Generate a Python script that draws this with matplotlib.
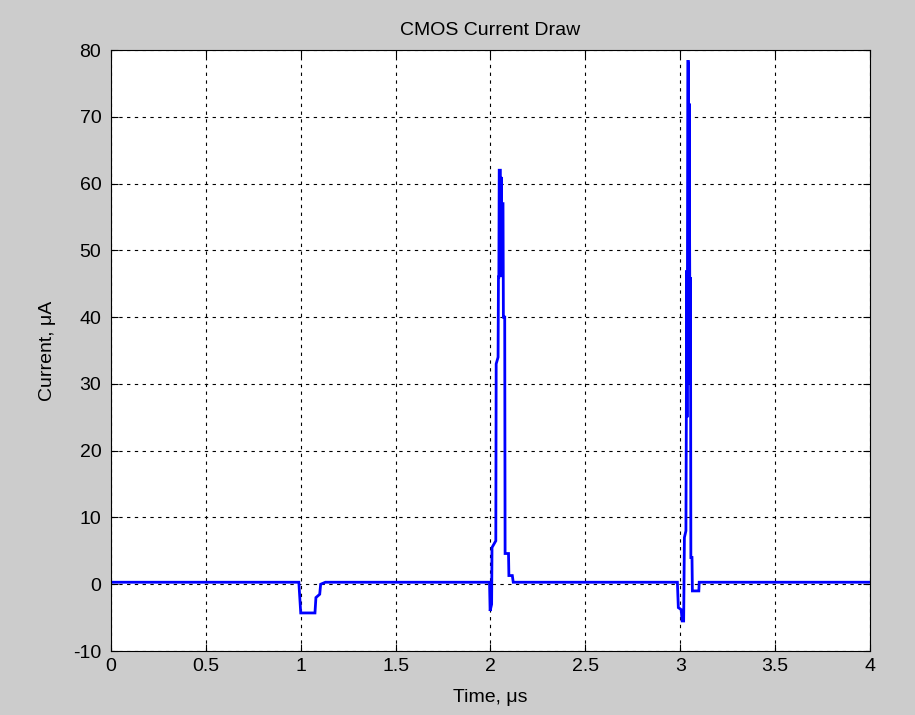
import matplotlib.pyplot as plt
from matplotlib.ticker import FormatStrFormatter

plt.rcParams['font.family'] = ['Liberation Sans', 'DejaVu Sans']
plt.rcParams['axes.unicode_minus'] = False

# breakpoints of the current trace (time in us, current in uA)
time_us = [0.0, 0.99, 1.0, 1.075, 1.08, 1.10, 1.105, 1.13,
           1.995, 1.998, 2.006, 2.008, 2.028, 2.030, 2.040, 2.042, 2.044, 2.046,
           2.052, 2.054, 2.056, 2.060, 2.062, 2.066, 2.068, 2.075, 2.077, 2.095,
           2.097, 2.115, 2.12,
           2.985, 2.99, 3.005, 3.01, 3.018, 3.022, 3.030, 3.032, 3.034, 3.036,
           3.038, 3.040, 3.043, 3.045, 3.047, 3.050, 3.052, 3.054, 3.056, 3.062,
           3.064, 3.098, 3.10, 4.0]
current_ua = [0.3, 0.3, -4.3, -4.3, -2.0, -1.5, 0.0, 0.3,
              0.3, -4.0, -3.0, 5.5, 6.5, 33, 34, 46, 46, 62,
              62, 47, 61, 46, 57, 57, 40, 40, 4.6, 4.6,
              1.3, 1.3, 0.3,
              0.3, -3.5, -3.8, -5.5, -5.5, 7, 8, 24, 47, 25,
              47, 78.3, 78.3, 46, 72, 47, 30, 46, 4, 4,
              -1, -1, 0.3, 0.3]

x_ticks = [0, 0.5, 1, 1.5, 2, 2.5, 3, 3.5, 4]
y_ticks = [-10, 0, 10, 20, 30, 40, 50, 60, 70, 80]

fig = plt.figure(figsize=(9.15, 7.15), dpi=100, facecolor='#cccccc')
ax = fig.add_axes([0.1213, 0.0895, 0.8295, 0.8405])
ax.set_facecolor('white')

ax.plot(time_us, current_ua, color='#0000ff', linewidth=2.0, solid_joinstyle='miter')

ax.set_xlim(0, 4)
ax.set_ylim(-10, 80)
ax.set_xticks(x_ticks)
ax.set_yticks(y_ticks)
ax.xaxis.set_major_formatter(FormatStrFormatter('%g'))
ax.grid(True, color='black', linestyle=(0, (3, 4)), linewidth=0.8)
ax.tick_params(direction='in', top=True, right=True, labelsize=14, length=5)
ax.tick_params(axis='y', pad=7)
ax.tick_params(axis='x', pad=5)
for s in ax.spines.values():
    s.set_linewidth(0.8)

ax.set_title('CMOS Current Draw', fontsize=14, pad=11)
ax.set_xlabel('Time, μs', fontsize=14, labelpad=10)
ax.set_ylabel('Current, μA', fontsize=14, labelpad=12)

fig.savefig('out.png', dpi=100, facecolor=fig.get_facecolor())
